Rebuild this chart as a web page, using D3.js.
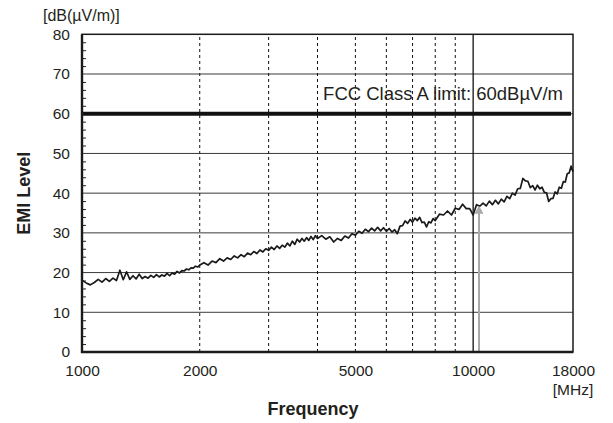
<!DOCTYPE html>
<html>
<head>
<meta charset="utf-8">
<script src="https://cdn.jsdelivr.net/npm/d3@7"></script>
<style>
  body { margin: 0; background: #fff; }
  svg text { font-family: "Liberation Sans", Arial, Helvetica, sans-serif; fill: #231f20; }
</style>
</head>
<body>
<div id="chart"></div>
<script>
// Chart data
const freqMHz = [
  1000, 1025, 1050, 1075, 1100, 1125, 1150, 1175, 1200, 1225, 1250, 1275, 1300, 1325, 1350, 1375,
  1400, 1425, 1450, 1475, 1500, 1525, 1550, 1575, 1600, 1625, 1650, 1675, 1700, 1725, 1750, 1775,
  1800, 1825, 1850, 1875, 1900, 1925, 1950, 1975, 2000,
  2050, 2100, 2150, 2200, 2250, 2300, 2350, 2400, 2450, 2500, 2550, 2600, 2650, 2700, 2750, 2800,
  2850, 2900, 2950, 3000, 3050, 3100, 3150, 3200, 3250, 3300, 3350, 3400, 3450, 3500, 3550, 3600,
  3650, 3700, 3750, 3800, 3850, 3900, 3950, 4000,
  4100, 4200, 4300, 4400, 4500, 4600, 4700, 4800, 4900, 5000, 5100, 5200, 5300, 5400, 5500, 5600,
  5700, 5800, 5900, 6000, 6100, 6200, 6300, 6400, 6500, 6600, 6700, 6800, 6900, 7000, 7100, 7200,
  7300, 7400, 7500, 7600, 7700, 7800, 7900, 8000,
  8200, 8400, 8600, 8800, 9000, 9200, 9400, 9600, 9800, 10000, 10200, 10400, 10600, 10800, 11000,
  11200, 11400, 11600, 11800, 12000, 12200, 12400, 12600, 12800, 13000, 13200, 13400, 13600, 13800,
  14000, 14200, 14400, 14600, 14800, 15000, 15200, 15400, 15600, 15800, 16000, 16200, 16400, 16600,
  16800, 17000, 17200, 17400, 17600, 17800, 18000
];
const emiLevel = [
  18.1, 17.4, 16.9, 17.5, 18.3, 17.6, 18.5, 17.8, 18.6, 18.0, 20.6, 18.2, 20.2, 18.3, 19.2, 18.4,
  19.6, 18.5, 19.0, 18.6, 19.3, 18.8, 19.5, 18.9, 19.4, 19.1, 19.8, 19.2, 19.9, 19.6, 20.3, 19.9,
  20.5, 20.4, 20.9, 20.7, 21.2, 21.1, 21.6, 21.4, 21.9,
  22.5, 21.9, 22.9, 22.5, 23.5, 22.9, 23.7, 23.3, 24.2, 23.7, 24.5, 24.0, 24.9, 24.5, 25.3, 24.8,
  25.7, 25.2, 26.0, 25.6, 26.4, 25.8, 26.7, 26.1, 26.9, 26.4, 27.4, 26.7, 27.9, 27.1, 28.4, 27.7,
  28.6, 27.9, 28.8, 28.1, 29.1, 28.3, 29.3, 28.6,
  29.3, 28.4, 29.0, 27.7, 28.6, 28.1, 29.2, 28.7, 29.8, 29.4, 30.4, 29.9, 30.9, 30.3, 31.2, 30.5,
  31.4, 30.5, 31.3, 30.4, 31.1, 30.2, 30.8, 29.8, 31.7, 31.8, 33.0, 32.4, 33.4, 32.7, 33.7, 33.1,
  33.9, 32.6, 32.7, 31.5, 32.8, 32.5, 33.6, 33.1,
  34.7, 34.5, 35.5, 34.5, 36.2, 35.9, 37.2, 36.1, 36.1, 34.5, 37.1, 36.7, 37.5, 36.8, 38.0,
  37.1, 38.2, 37.3, 38.5, 37.8, 39.2, 38.6, 40.0, 39.5, 41.1, 41.2, 43.7, 43.1, 43.0,
  41.4, 41.9, 40.8, 42.0, 41.1, 41.5, 40.2, 40.1, 37.9, 38.6, 38.7, 40.3, 39.8, 41.5,
  41.2, 42.9, 42.8, 44.9, 45.1, 46.8, 45.4
];
const yMajorTicks = [0, 10, 20, 30, 40, 50, 60, 70, 80];
const yMinorTicks = [2, 4, 6, 8, 12, 14, 16, 18, 22, 24, 26, 28, 32, 34, 36, 38, 42, 44, 46, 48,
                     52, 54, 56, 58, 62, 64, 66, 68, 72, 74, 76, 78];
const xTickLabels = [1000, 2000, 5000, 10000, 18000];
const xDashedGrid = [2000, 3000, 4000, 5000, 6000, 7000, 8000, 9000];
const xSolidGrid = [10000];
const limitLevel = 60;
const limitLabel = "FCC Class A limit: 60dBµV/m";
const markerFreq = 10350;
const markerLevel = 36.8;

const width = 613, height = 423;
const margin = { top: 34.3, right: 40, bottom: 71, left: 82 };

const svg = d3.select("#chart").append("svg")
    .attr("width", width)
    .attr("height", height);

const x = d3.scaleLog().domain([1000, 18000]).range([margin.left, width - margin.right]);
const y = d3.scaleLinear().domain([0, 80]).range([height - margin.bottom, margin.top]);

// Horizontal grid
svg.append("g").selectAll("line")
    .data(yMajorTicks.filter(d => d > 0 && d < 80))
    .enter().append("line")
    .attr("x1", x(1000)).attr("x2", x(18000))
    .attr("y1", d => y(d)).attr("y2", d => y(d))
    .style("stroke", "#3a3a3a")
    .style("stroke-width", "1");

// Vertical grid (dashed)
svg.append("g").selectAll("line")
    .data(xDashedGrid)
    .enter().append("line")
    .attr("x1", d => x(d)).attr("x2", d => x(d))
    .attr("y1", y(0)).attr("y2", y(80))
    .style("stroke", "#111")
    .style("stroke-width", "1")
    .style("stroke-dasharray", "3,3");

svg.append("g").selectAll("line")
    .data(xSolidGrid)
    .enter().append("line")
    .attr("x1", d => x(d)).attr("x2", d => x(d))
    .attr("y1", y(0)).attr("y2", y(80))
    .style("stroke", "#111")
    .style("stroke-width", "1.3");

// Measured trace
const trace = freqMHz.map((f, i) => [f, emiLevel[i]]);
const line = d3.line()
    .x(d => x(d[0]))
    .y(d => y(d[1]));

svg.append("path")
    .datum(trace)
    .attr("d", line)
    .style("fill", "none")
    .style("stroke", "#1a1a1a")
    .style("stroke-width", "1.7")
    .style("stroke-linejoin", "round");

// Gray marker arrow
svg.append("line")
    .attr("x1", x(markerFreq)).attr("x2", x(markerFreq))
    .attr("y1", y(0)).attr("y2", y(markerLevel - 1.6))
    .style("stroke", "#a8a8a8")
    .style("stroke-width", "2");
svg.append("path")
    .attr("d", `M${x(markerFreq)},${y(markerLevel)} L${x(markerFreq) - 4.5},${y(markerLevel - 2)} L${x(markerFreq) + 4.5},${y(markerLevel - 2)} Z`)
    .style("fill", "#a8a8a8");

// Limit line
svg.append("line")
    .attr("x1", x(1000)).attr("x2", x(18000) - 2)
    .attr("y1", y(limitLevel)).attr("y2", y(limitLevel))
    .style("stroke", "#111")
    .style("stroke-width", "4");

svg.append("text")
    .attr("x", 563)
    .attr("y", y(limitLevel) - 14)
    .attr("text-anchor", "end")
    .style("font-size", "18.5px")
    .text(limitLabel);

// Y axis
const yAxis = d3.axisLeft(y).tickValues(yMajorTicks).tickSize(0).tickPadding(12);
const gy = svg.append("g").attr("transform", `translate(${margin.left},0)`).call(yAxis);
gy.select(".domain").remove();
gy.selectAll("text").style("font-size", "15.5px").style("fill", "#231f20");

const yMinor = d3.axisLeft(y).tickValues(yMinorTicks).tickSize(-4).tickFormat("");
const gyMinor = svg.append("g").attr("transform", `translate(${margin.left},0)`).call(yMinor);
gyMinor.select(".domain").remove();
gyMinor.selectAll("line").style("stroke", "#222").style("stroke-width", "1");

// X axis
const xAxis = d3.axisBottom(x).tickValues(xTickLabels).tickSize(0).tickPadding(13)
    .tickFormat(d3.format("d"));
const gx = svg.append("g").attr("transform", `translate(0,${y(0)})`).call(xAxis);
gx.select(".domain").remove();
gx.selectAll("text").style("font-size", "15.5px").style("fill", "#231f20");

// Plot frame
svg.append("rect")
    .attr("x", x(1000)).attr("y", y(80))
    .attr("width", x(18000) - x(1000))
    .attr("height", y(0) - y(80))
    .style("fill", "none")
    .style("stroke", "#1a1a1a")
    .style("stroke-width", "1.5");
svg.append("path")
    .attr("d", `M${x(1000)},${y(80)} V${y(0)} H${x(18000)}`)
    .style("fill", "none")
    .style("stroke", "#1a1a1a")
    .style("stroke-width", "2.4");

// Units and titles
svg.append("text")
    .attr("x", 43).attr("y", 21)
    .style("font-size", "16px")
    .text("[dB(µV/m)]");

svg.append("text")
    .attr("x", x(18000)).attr("y", 395)
    .attr("text-anchor", "middle")
    .style("font-size", "15.5px")
    .text("[MHz]");

svg.append("text")
    .attr("x", 313).attr("y", 415)
    .attr("text-anchor", "middle")
    .style("font-size", "18px")
    .style("font-weight", "bold")
    .text("Frequency");

svg.append("text")
    .attr("transform", `translate(30,${(y(0) + y(80)) / 2}) rotate(-90)`)
    .attr("text-anchor", "middle")
    .style("font-size", "18px")
    .style("font-weight", "bold")
    .text("EMI Level");
</script>
</body>
</html>
